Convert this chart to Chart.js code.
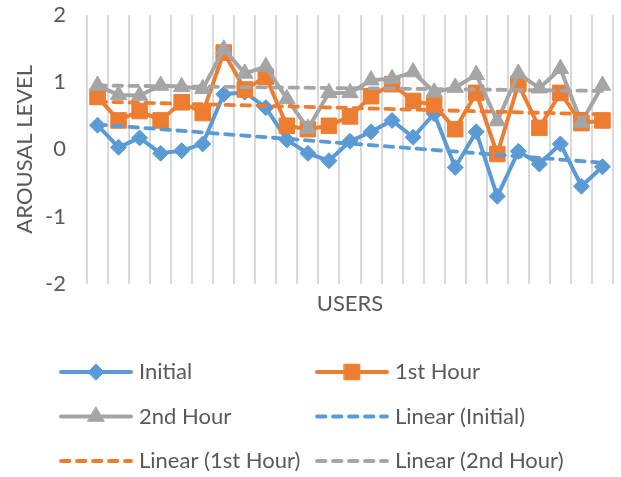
<!DOCTYPE html>
<html>
<head>
<meta charset="utf-8">
<script src="https://cdn.jsdelivr.net/npm/chart.js@4.4.1/dist/chart.umd.min.js"></script>
<style>
  html, body { margin: 0; padding: 0; background: #fff; }
</style>
</head>
<body>
<canvas id="myChart" width="621" height="477"></canvas>
<script>
// one category per user (no tick labels are shown)
const users = ['1','2','3','4','5','6','7','8','9','10','11','12','13',
               '14','15','16','17','18','19','20','21','22','23','24','25'];

const initial  = [0.36, 0.03, 0.17, -0.06, -0.02, 0.08, 0.82, 0.85, 0.62, 0.14, -0.06, -0.17, 0.12,
                  0.26, 0.43, 0.18, 0.53, -0.27, 0.26, -0.70, -0.03, -0.22, 0.08, -0.55, -0.26];
const hour1    = [0.78, 0.43, 0.57, 0.43, 0.70, 0.54, 1.44, 0.89, 1.08, 0.35, 0.30, 0.35, 0.49,
                  0.79, 0.97, 0.72, 0.66, 0.30, 0.84, -0.07, 0.97, 0.32, 0.84, 0.39, 0.43];
const hour2    = [0.95, 0.81, 0.80, 0.95, 0.93, 0.90, 1.49, 1.13, 1.23, 0.75, 0.31, 0.84, 0.84,
                  1.03, 1.05, 1.15, 0.85, 0.92, 1.11, 0.42, 1.13, 0.91, 1.20, 0.40, 0.95];

// trendline end values (first user, last user)
const trendEnds    = ['1', '25'];
const trendInitial = [0.37, -0.20];
const trendHour1   = [0.71, 0.52];
const trendHour2   = [0.95, 0.87];

const yTicks = [-2, -1, 0, 1, 2];

const BLUE = '#5b9bd5', ORANGE = '#ed7d31', GRAY = '#a5a5a5', TEXT = '#595959';
const FONT = 'Lato';
const DASH = [8.5, 7.5];

function ends(vals){
    return trendEnds.map(function(u, i){ return {x: u, y: vals[i]}; });
}

function serie(label, data, color, style, r, order){
    return {
        label: label, data: data,
        borderColor: color, backgroundColor: color,
        borderWidth: 4, pointStyle: style, pointRadius: r, pointHoverRadius: r,
        pointBorderWidth: 1, tension: 0, order: order
    };
}

function trend(label, vals, color){
    return {
        label: label, data: ends(vals),
        borderColor: color, backgroundColor: color,
        borderWidth: 3.8, borderDash: DASH, borderCapStyle: 'round',
        pointRadius: 0, tension: 0, order: 0, isTrend: true
    };
}

// legend in two columns under the plot, drawn by hand
const legendPlugin = {
    id: 'twoColLegend',
    afterDraw(chart){
        const ctx = chart.ctx;
        chart.data.datasets.forEach(function(ds, i){
            const col = i % 2, row = Math.floor(i / 2);
            const x = 61 + col * 256, y = 372 + row * 44.5;
            ctx.save();
            ctx.strokeStyle = ds.borderColor;
            ctx.fillStyle = ds.borderColor;
            ctx.lineCap = 'round';
            if(ds.isTrend){
                ctx.lineWidth = 3.8;
                ctx.setLineDash(DASH);
            }else{
                ctx.lineWidth = 4;
            }
            ctx.beginPath();
            ctx.moveTo(x, y);
            ctx.lineTo(x + 70, y);
            ctx.stroke();
            ctx.setLineDash([]);
            if(!ds.isTrend){
                ctx.lineWidth = 1;
                Chart.helpers.drawPoint(ctx, {pointStyle: ds.pointStyle, radius: ds.pointRadius, rotation: 0, borderWidth: 1}, x + 35, y);
            }
            ctx.fillStyle = TEXT;
            ctx.font = '22px ' + FONT;
            ctx.textBaseline = 'middle';
            ctx.fillText(ds.label, x + 78, y);
            ctx.restore();
        });
    }
};

const can = document.getElementById('myChart');

new Chart(can, {
    type: 'line',
    data: {
        labels: users,
        datasets: [
            serie('Initial', initial, BLUE, 'rectRot', 8, 3),
            serie('1st Hour', hour1, ORANGE, 'rect', 11, 2),
            serie('2nd Hour', hour2, GRAY, 'triangle', 9.5, 1),
            trend('Linear (Initial)', trendInitial, BLUE),
            trend('Linear (1st Hour)', trendHour1, ORANGE),
            trend('Linear (2nd Hour)', trendHour2, GRAY)
        ]
    },
    options: {
        responsive: false,
        animation: false,
        layout: { autoPadding: false, padding: { left: 12, right: 8, top: 15, bottom: 160 } },
        plugins: { legend: { display: false }, tooltip: { enabled: false } },
        scales: {
            x: {
                offset: true,
                grid: { offset: true, color: '#d9d9d9', lineWidth: 2, drawTicks: false },
                border: { display: false },
                ticks: { display: false },
                title: { display: true, text: 'USERS', color: TEXT, font: { family: FONT, size: 22 }, padding: { top: 7, bottom: 0 } }
            },
            y: {
                min: -2, max: 2,
                afterBuildTicks: function(scale){ scale.ticks = yTicks.map(function(v){ return {value: v}; }); },
                afterFit: function(scale){
                    scale.width = 75;
                    scale.paddingTop = 0;
                    scale.paddingBottom = 0;
                },
                grid: { display: false, drawTicks: false },
                border: { display: false },
                ticks: { color: TEXT, font: { family: FONT, size: 22 }, padding: 21 },
                title: { display: true, text: 'AROUSAL LEVEL', color: TEXT, font: { family: FONT, size: 22 }, padding: 0 }
            }
        }
    },
    plugins: [legendPlugin]
});
</script>
</body>
</html>
